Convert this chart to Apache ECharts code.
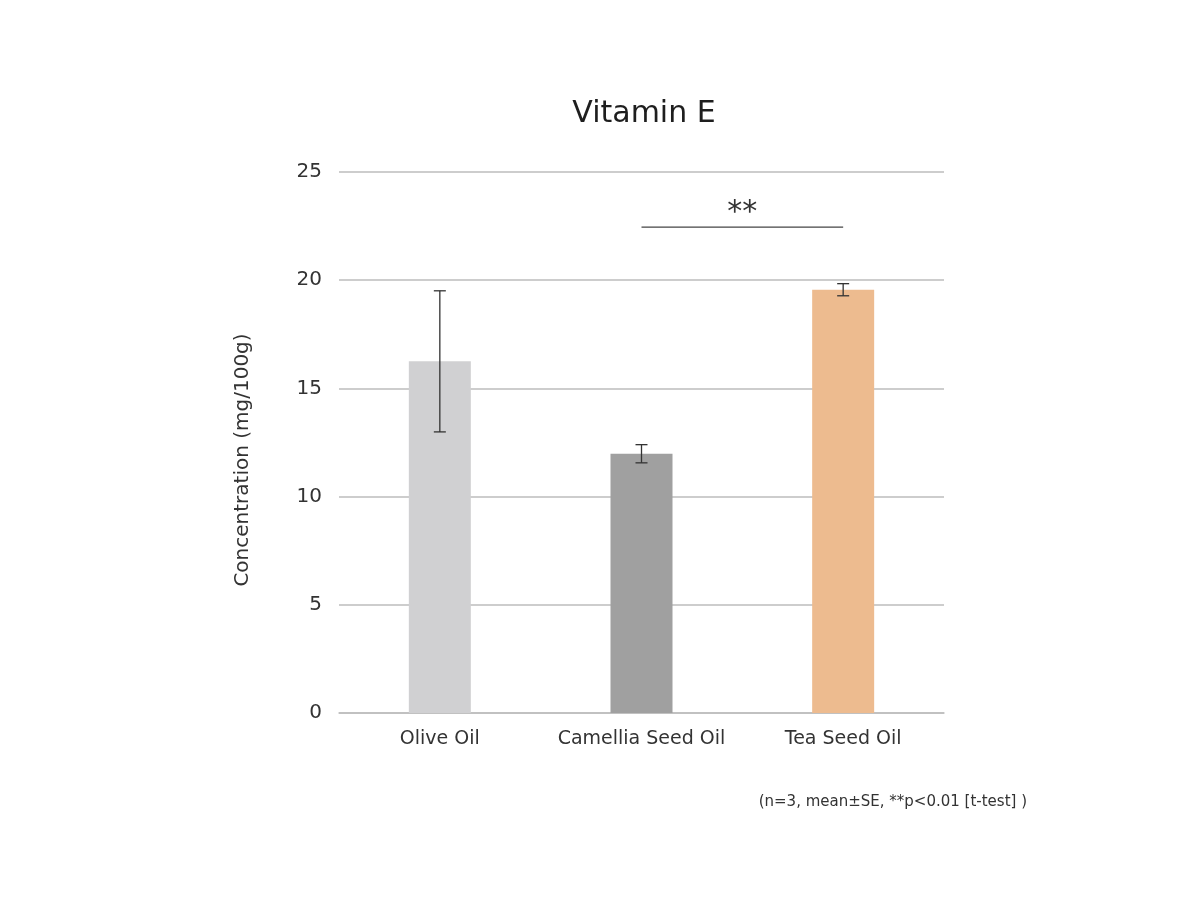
<!DOCTYPE html>
<html>
<head>
<meta charset="utf-8">
<title>Vitamin E</title>
<script src="https://cdn.jsdelivr.net/npm/echarts@6/dist/echarts.min.js"></script>
<style>
  html, body { margin: 0; padding: 0; background: #fff; }
  #chart { width: 1200px; height: 909px; }
</style>
</head>
<body>
<div id="chart"></div>
<script>
// データ
const categories = ['Olive Oil', 'Camellia Seed Oil', 'Tea Seed Oil']
const means = [16.25, 11.98, 19.56]
const errors = [3.26, 0.42, 0.28]
const barColors = ['#d0d0d2', '#a0a0a0', '#edbb8f']
const yTicks = [0, 5, 10, 15, 20, 25]
// 有意差ブラケット
const sigFrom = 1
const sigTo = 2
const sigY = 22.45
const sigLabel = '**'

const FONT = '"DejaVu Sans", sans-serif'
const TXT = '#333'

const chart = echarts.init(document.getElementById('chart'))

const option = {
  animation: false,
  backgroundColor: '#fff',
  title: {
    text: 'Vitamin E',
    left: 639, top: 94, textAlign: 'center',
    textStyle: { fontFamily: FONT, fontSize: 30, fontWeight: 'normal', color: '#1e1e1e' }
  },
  grid: { left: 339, right: 256, top: 172, bottom: 196 },
  xAxis: {
    type: 'category',
    data: categories,
    axisLine: { lineStyle: { color: '#bdbdbd', width: 1.5 } },
    axisTick: { show: false },
    axisLabel: { interval: 0, hideOverlap: false, fontFamily: FONT, fontSize: 19, color: TXT, margin: 17 }
  },
  yAxis: {
    type: 'value',
    min: yTicks[0], max: yTicks[yTicks.length - 1], interval: 5,
    axisLine: { show: false },
    axisTick: { show: false },
    splitLine: { lineStyle: { color: '#bdbdbd', width: 1.5 } },
    axisLabel: { fontFamily: FONT, fontSize: 20, color: TXT, margin: 17 }
  },
  graphic: [
    {
      type: 'text', x: 243, y: 460, rotation: Math.PI / 2,
      style: {
        text: 'Concentration (mg/100g)', fontFamily: FONT, fontSize: 20, fill: TXT,
        align: 'center', verticalAlign: 'middle'
      }
    },
    {
      type: 'text', x: 1027, y: 802,
      style: {
        text: '(n=3, mean±SE, **p<0.01 [t-test] )', fontFamily: FONT, fontSize: 15, fill: TXT,
        align: 'right', verticalAlign: 'middle'
      }
    }
  ],
  series: [
    {
      type: 'bar',
      barWidth: 62,
      data: means.map((v, i) => ({ value: v, itemStyle: { color: barColors[i] } })),
      z: 2
    },
    {
      // エラーバー
      type: 'custom',
      data: means.map((m, i) => [i, m - errors[i], m + errors[i]]),
      renderItem: (params, api) => {
        const lo = api.coord([api.value(0), api.value(1)])
        const hi = api.coord([api.value(0), api.value(2)])
        const cap = 6
        const style = { stroke: '#333', lineWidth: 1.3 }
        return {
          type: 'group',
          children: [
            { type: 'line', shape: { x1: hi[0], y1: hi[1], x2: lo[0], y2: lo[1] }, style },
            { type: 'line', shape: { x1: hi[0] - cap, y1: hi[1], x2: hi[0] + cap, y2: hi[1] }, style },
            { type: 'line', shape: { x1: lo[0] - cap, y1: lo[1], x2: lo[0] + cap, y2: lo[1] }, style }
          ]
        }
      },
      z: 3
    },
    {
      // 有意差
      type: 'custom',
      data: [[sigFrom, sigTo, sigY]],
      renderItem: (params, api) => {
        const a = api.coord([api.value(0), api.value(2)])
        const b = api.coord([api.value(1), api.value(2)])
        return {
          type: 'group',
          children: [
            { type: 'line', shape: { x1: a[0], y1: a[1], x2: b[0], y2: b[1] }, style: { stroke: '#444', lineWidth: 1.3 } },
            {
              type: 'text', x: (a[0] + b[0]) / 2, y: a[1] - 14,
              style: { text: sigLabel, fontFamily: FONT, fontSize: 30, fill: '#333', align: 'center', verticalAlign: 'middle' }
            }
          ]
        }
      },
      z: 3
    }
  ]
}

chart.setOption(option)
</script>
</body>
</html>
